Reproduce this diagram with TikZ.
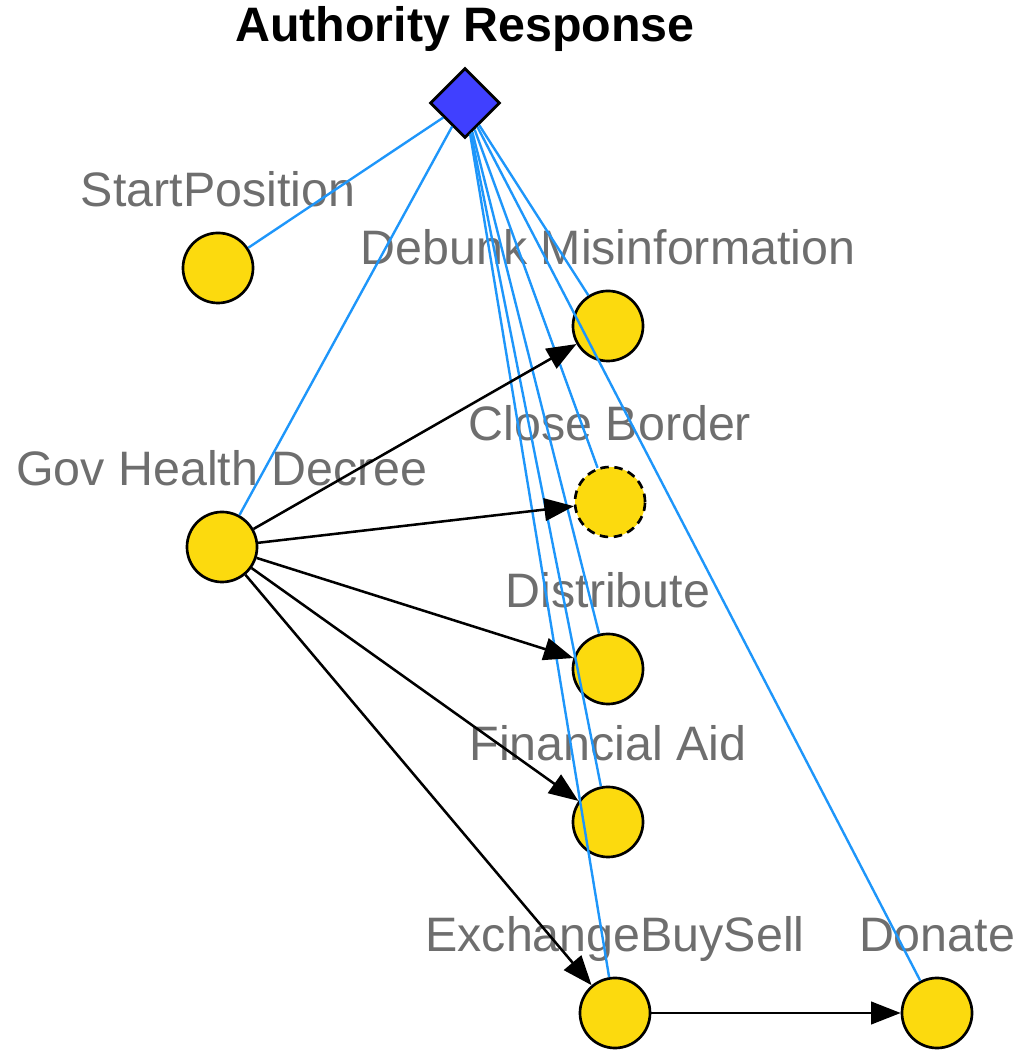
\documentclass[tikz,border=0pt]{standalone}
\usepackage{fontspec}
\setmainfont{Liberation Sans}
\usetikzlibrary{positioning}
\usetikzlibrary{graphs}
\usetikzlibrary{shapes.geometric}
\usetikzlibrary{arrows.meta}
\definecolor{stategold}{RGB}{252,218,14}
\definecolor{authblue}{RGB}{64,64,255}
\definecolor{linkblue}{RGB}{30,150,250}
\definecolor{taggray}{RGB}{110,110,110}
\tikzset{
    state/.style={circle, draw=black, line width=1.9pt, fill=stategold, minimum size=49.8pt, inner sep=0pt},
    actor/.style={diamond, draw=black, line width=2pt, fill=authblue, minimum width=49.8pt, minimum height=49.8pt, inner sep=0pt},
    tag/.style={inner sep=0pt, text height=24.8pt, text depth=7.2pt, text=taggray, font=\fontsize{34.4}{40}\selectfont},
    link/.style={draw=linkblue, line width=1.7pt},
    flow/.style={draw=black, line width=1.8pt}
}

\begin{document}
\begin{tikzpicture}[x=0.025cm, y=0.025cm, >={Triangle[length=21pt,width=16pt]}]
            \useasboundingbox (0,0) rectangle (1020,1050);
            \node (auth) [actor]            at (465,947) {};
            \node (start) [state]           at (218,782) {};
            \node (gov) [state]             at (222,503) {};
            \node (debunk) [state]          at (608,724) {};
            \node (border) [state, dash pattern=on 6pt off 4pt] at (610,548) {};
            \node (distribute) [state]      at (608,381) {};
            \node (aid) [state]             at (608,228) {};
            \node (exchange) [state]        at (615,37)  {};
            \node (donate) [state]          at (937,37)  {};

            \node (title) [tag, text=black, font=\bfseries\fontsize{34.4}{40}\selectfont, above=0.375cm of auth] {Authority Response};
            \node (lstart) [tag, above=0.375cm of start]           {StartPosition};
            \node (lgov) [tag, above=0.375cm of gov]               {Gov Health Decree};
            \node (ldebunk) [tag, above=0.375cm of debunk]         {Debunk Misinformation};
            \node (lborder) [tag, above=0.375cm of border]         {Close Border};
            \node (ldistribute) [tag, above=0.375cm of distribute] {Distribute};
            \node (laid) [tag, above=0.375cm of aid]               {Financial Aid};
            \node (lexchange) [tag, above=0.375cm of exchange]     {ExchangeBuySell};
            \node (ldonate) [tag, above=0.375cm of donate]         {Donate};

            \graph[use existing nodes]{
                auth --[link] {start, gov, debunk, border, distribute, aid, exchange, donate};
                gov ->[flow] {debunk, border, distribute, aid, exchange};
                exchange ->[flow] donate;
            };
        \end{tikzpicture}
\end{document}
